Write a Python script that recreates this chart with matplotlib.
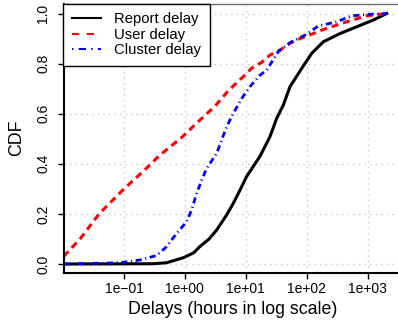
import numpy as np
import matplotlib.pyplot as plt
from matplotlib.lines import Line2D

plt.rcParams['font.family'] = ['Liberation Sans', 'DejaVu Sans']

# delays in hours and CDF values
report_x = [0.0102, 0.3, 0.5, 0.94, 1.4, 1.77, 2.5, 3.33, 4.85, 6.23, 8.03, 10.3,
            13.3, 17.1, 24.9, 32.1, 41.4, 53.2, 82.8, 121, 187, 352, 662, 1240, 2060]
report_y = [0.0, 0.001, 0.005, 0.025, 0.045, 0.07, 0.1, 0.136, 0.196, 0.242, 0.295, 0.349,
            0.39, 0.43, 0.508, 0.581, 0.635, 0.708, 0.781, 0.841, 0.887, 0.92, 0.947, 0.974, 1.0]

user_x = [0.0102, 0.019, 0.039, 0.1, 0.207, 0.39, 0.885, 1.77, 3.12, 5.0, 6.9,
          9.1, 12.4, 18.2, 24.9, 36.4, 53.2, 77.6, 128, 187, 454, 967, 2060]
user_y = [0.03, 0.10, 0.20, 0.30, 0.37, 0.435, 0.505, 0.575, 0.63, 0.688, 0.721,
          0.748, 0.781, 0.805, 0.834, 0.854, 0.881, 0.90, 0.92, 0.936, 0.967, 0.991, 1.0]

cluster_x = [0.0102, 0.086, 0.183, 0.344, 0.50, 0.73, 1.07, 1.29, 1.56, 1.89, 2.28,
             3.33, 4.85, 6.23, 8.57, 11.7, 17.1, 22.0, 34.2, 53.2, 94, 155, 311, 548, 1240, 2060]
cluster_y = [0.0, 0.005, 0.016, 0.034, 0.069, 0.122, 0.169, 0.216, 0.282, 0.335, 0.382,
             0.442, 0.548, 0.601, 0.661, 0.708, 0.754, 0.774, 0.848, 0.884, 0.914, 0.95, 0.967, 0.991, 0.998, 1.0]

xticks = [0.1, 1, 10, 100, 1000]
xticklabels = ['1e\u221201', '1e+00', '1e+01', '1e+02', '1e+03']
yticks = [0.0, 0.2, 0.4, 0.6, 0.8, 1.0]

fig = plt.figure(figsize=(3.98, 3.22), dpi=100)
ax = fig.add_axes([63.5 / 398, 1 - 273 / 322, (402 - 63.5) / 398, (273 - 3.5) / 322])

ax.plot(report_x, report_y, color='black', lw=2.2)
ax.plot(user_x, user_y, color='red', lw=2.2, dashes=(2.3, 1.6))
ax.plot(cluster_x, cluster_y, color='blue', lw=2.0, dashes=(2.2, 1.3, 0.4, 1.3))

ax.set_xscale('log')
ax.set_xlim(0.01017, 3670)
ax.set_ylim(-0.0359, 1.04)

ax.set_xticks(xticks)
ax.set_xticklabels(xticklabels)
ax.minorticks_off()
ax.set_yticks(yticks)
ax.set_yticklabels(['%.1f' % v for v in yticks], rotation=90, va='center')

ax.tick_params(axis='both', labelsize=10, length=4.5, width=1, direction='out')
ax.tick_params(axis='x', pad=1.8)
ax.tick_params(axis='y', pad=5)

ax.grid(True, color='#c8c8c8', linestyle=(0, (1, 3)), lw=1)

for s in ['left', 'bottom']:
    ax.spines[s].set_linewidth(1.5)
ax.spines['top'].set_color('#707070')
ax.spines['top'].set_linewidth(1)
ax.spines['right'].set_visible(False)

ax.set_xlabel('Delays (hours in log scale)', fontsize=12.8, labelpad=4)
ax.set_ylabel('CDF', fontsize=12.8, labelpad=8)

handles = [Line2D([], [], color='black', lw=1.5),
           Line2D([], [], color='red', lw=1.5, dashes=(3.5, 3.5)),
           Line2D([], [], color='blue', lw=1.5, dashes=(0.7, 2.5, 3.5, 2.5))]
leg = ax.legend(handles, ['Report delay', 'User delay', 'Cluster delay'],
                loc='upper left', bbox_to_anchor=(0, 1), borderaxespad=0,
                fontsize=10.7, fancybox=False, framealpha=1, edgecolor='black',
                handlelength=1.9, handletextpad=0.9, labelspacing=0.1,
                borderpad=0.6)
leg.get_frame().set_linewidth(1)

fig.savefig('out.png', dpi=100)
